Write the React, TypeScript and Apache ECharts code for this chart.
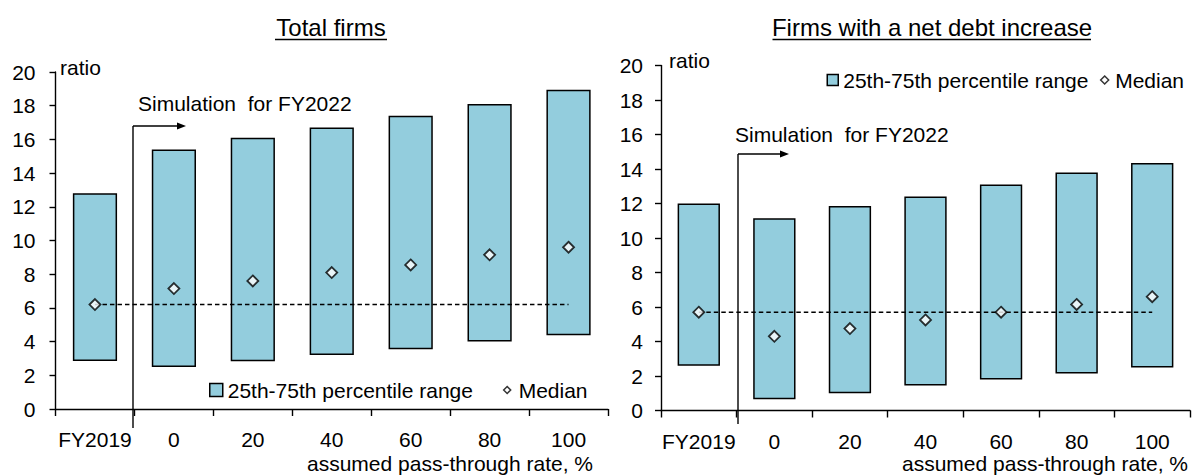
import React, { useEffect, useRef } from "react";
import * as echarts from "echarts";

const categories = ["FY2019", "0", "20", "40", "60", "80", "100"];
const totalLow = [2.85, 2.5, 2.83, 3.2, 3.55, 4.0, 4.38];
const totalHigh = [12.8, 15.4, 16.1, 16.7, 17.4, 18.1, 18.95];
const totalMedian = [6.2, 7.15, 7.6, 8.1, 8.55, 9.15, 9.6];
const debtLow = [2.6, 0.65, 1.0, 1.45, 1.8, 2.15, 2.5];
const debtHigh = [12.0, 11.15, 11.85, 12.4, 13.1, 13.8, 14.35];
const debtMedian = [5.7, 4.3, 4.75, 5.25, 5.7, 6.15, 6.6];
const titles = ["Total firms", "Firms with a net debt increase"];
const rangeName = "25th-75th percentile range";
const medianName = "Median";

const FONT = "'Liberation Sans', Arial, sans-serif";
const BAR_COLOR = "#93CDDD";

function buildSeries(idx: number, low: number[], high: number[], med: number[]) {
  return [
    {
      name: "base" + idx,
      type: "bar",
      xAxisIndex: idx,
      yAxisIndex: idx,
      stack: "s" + idx,
      barWidth: "56%",
      data: low,
      itemStyle: { color: "transparent", borderWidth: 0 },
      silent: true,
    },
    {
      name: rangeName,
      type: "bar",
      xAxisIndex: idx,
      yAxisIndex: idx,
      stack: "s" + idx,
      barWidth: "56%",
      data: high.map((h, i) => h - low[i]),
      itemStyle: { color: BAR_COLOR, borderColor: "#000", borderWidth: 1.5 },
    },
    {
      name: "ref" + idx,
      type: "line",
      xAxisIndex: idx,
      yAxisIndex: idx,
      data: categories.map(() => med[0]),
      symbol: "none",
      lineStyle: { color: "#000", width: 1.5, type: [4.5, 3] },
      silent: true,
    },
    {
      name: medianName,
      type: "scatter",
      xAxisIndex: idx,
      yAxisIndex: idx,
      data: med,
      symbol: "diamond",
      symbolSize: 11,
      itemStyle: { color: "#fff", borderColor: "#000", borderWidth: 1.8 },
      z: 5,
    },
  ];
}

function xAxis(idx: number) {
  return {
    type: "category",
    gridIndex: idx,
    data: categories,
    boundaryGap: true,
    axisLine: { lineStyle: { color: "#000", width: 1.4 } },
    axisTick: { show: true, length: 7, lineStyle: { color: "#000", width: 1.4 } },
    axisLabel: { color: "#000", fontSize: 21, fontFamily: FONT, margin: 20, interval: 0 },
    splitLine: { show: false },
  };
}

function yAxis(idx: number, margin: number) {
  return {
    type: "value",
    gridIndex: idx,
    min: 0,
    max: 20,
    interval: 2,
    axisLine: { show: true, lineStyle: { color: "#000", width: 1.4 } },
    axisTick: { show: true, length: 6, lineStyle: { color: "#000", width: 1.4 } },
    axisLabel: { color: "#000", fontSize: 21, fontFamily: FONT, margin },
    splitLine: { show: false },
  };
}

function txt(text: string, x: number, y: number, size: number, align = "left") {
  return {
    type: "text",
    x,
    y,
    style: {
      text,
      fill: "#000",
      font: `${size}px ${FONT}`,
      align,
      verticalAlign: "middle",
    },
  };
}

function line(x1: number, y1: number, x2: number, y2: number, w = 1.4) {
  return {
    type: "line",
    shape: { x1, y1, x2, y2 },
    style: { stroke: "#000", lineWidth: w },
  };
}

export default function App() {
  const ref = useRef<HTMLDivElement>(null);
  useEffect(() => {
    const chart = echarts.init(ref.current!, null, { renderer: "svg" });
    chart.setOption({
      animation: false,
      backgroundColor: "#fff",
      textStyle: { fontFamily: FONT },
      grid: [
        { left: 55.5, top: 72, width: 552.5, height: 337 },
        { left: 661, top: 65.5, width: 529, height: 345 },
      ],
      xAxis: [xAxis(0), xAxis(1)],
      yAxis: [yAxis(0, 20), yAxis(1, 18)],
      legend: [
        {
          left: 209,
          top: 379.5,
          padding: 0,
          itemWidth: 13,
          itemHeight: 13,
          itemGap: 27,
          selectedMode: false,
          textStyle: { color: "#000", fontSize: 21, fontFamily: FONT },
          data: [
            { name: rangeName, icon: "rect", itemStyle: { color: BAR_COLOR, borderColor: "#000", borderWidth: 1.5 } },
            {
              name: medianName,
              icon: "path://M0,0M13,13M6.5,3L10,6.5L6.5,10L3,6.5Z",
              itemStyle: { color: "#fff", borderColor: "#000", borderWidth: 1.5 },
            },
          ],
        },
        {
          left: 826.5,
          top: 69.5,
          padding: 0,
          itemWidth: 11,
          itemHeight: 11,
          itemGap: 10,
          selectedMode: false,
          textStyle: { color: "#000", fontSize: 21, fontFamily: FONT },
          data: [
            { name: rangeName, icon: "rect", itemStyle: { color: BAR_COLOR, borderColor: "#000", borderWidth: 1.5 } },
            {
              name: medianName,
              icon: "path://M0,0M11,11M5.5,1.5L9.5,5.5L5.5,9.5L1.5,5.5Z",
              itemStyle: { color: "#fff", borderColor: "#000", borderWidth: 1.5 },
            },
          ],
        },
      ],
      graphic: [
        txt(titles[0], 331, 27, 24, "center"),
        line(275, 39.5, 387, 39.5, 1.6),
        txt(titles[1], 932, 27, 24, "center"),
        line(772.5, 39.5, 1091, 39.5, 1.6),
        txt("ratio", 60, 67, 21),
        txt("ratio", 669, 60, 21),
        txt("Simulation  for FY2022", 138, 103, 21),
        txt("Simulation  for FY2022", 735, 134, 21),
        line(133, 126, 133, 428),
        line(133, 126, 178, 126),
        { type: "polygon", shape: { points: [[177, 122.5], [186, 126], [177, 129.5]] }, style: { fill: "#000" } },
        line(738, 154, 738, 424),
        line(738, 154, 781, 154),
        { type: "polygon", shape: { points: [[780, 150.5], [789, 154], [780, 157.5]] }, style: { fill: "#000" } },
        txt("assumed pass-through rate, %", 593, 463.5, 21, "right"),
        txt("assumed pass-through rate, %", 1188, 463.5, 21, "right"),
      ],
      series: [
        ...buildSeries(0, totalLow, totalHigh, totalMedian),
        ...buildSeries(1, debtLow, debtHigh, debtMedian),
      ],
    });
    return () => chart.dispose();
  }, []);
  return (
    <div
      ref={ref}
      style={{ position: "absolute", left: 0, top: 0, width: 1200, height: 475 }}
    />
  );
}
